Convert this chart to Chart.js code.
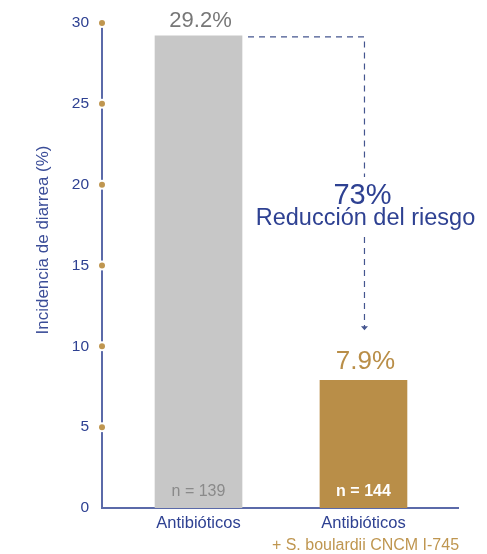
<!DOCTYPE html>
<html>
<head>
<meta charset="utf-8">
<script src="https://cdn.jsdelivr.net/npm/chart.js@4.4.1/dist/chart.umd.min.js"></script>
<style>
  html, body { margin: 0; padding: 0; background: #fff; }
  #wrap { width: 487px; height: 554px; }
</style>
</head>
<body>
<div id="wrap"><canvas id="myChart"></canvas></div>
<script>
const categories = ['Antibióticos', 'Antibióticos']
const subLabels = ['', '+ S. boulardii CNCM I-745']
const incidence = [29.2, 7.9]
const sampleSizes = ['n = 139', 'n = 144']
const yTicks = [0, 5, 10, 15, 20, 25, 30]
const reduction = '73%'
const reductionText = 'Reducción del riesgo'

const barColors = ['#c7c7c7', '#b98e48']
const valueColors = ['#777777', '#b98e48']
const nColors = ['#8a8a8a', '#ffffff']
const navy = '#2e4192'
const axisColor = '#5b6aa9'
const gold = '#bf9650'
const FONT = '"Liberation Sans", Arial, sans-serif'

const ctx = document.getElementById('myChart')

// dots on the y axis, value labels, dashed arrow, y title
const decor = {
  id: 'decor',
  afterDatasetsDraw(chart) {
    const { ctx, scales: { x, y }, chartArea } = chart
    const meta = chart.getDatasetMeta(0)
    ctx.save()

    // gold dots at each tick, with a small white ring over the axis line
    yTicks.forEach(v => {
      if (v === 0) return
      const py = y.getPixelForValue(v)
      ctx.fillStyle = '#ffffff'
      ctx.beginPath()
      ctx.arc(chartArea.left, py, 5, 0, Math.PI * 2)
      ctx.fill()
      ctx.fillStyle = gold
      ctx.beginPath()
      ctx.arc(chartArea.left, py, 3, 0, Math.PI * 2)
      ctx.fill()
    })

    // value on top, n inside the bar
    meta.data.forEach((bar, i) => {
      ctx.textAlign = 'center'
      ctx.textBaseline = 'alphabetic'
      ctx.fillStyle = valueColors[i]
      ctx.font = (i === 0 ? '22px ' : '26px ') + FONT
      ctx.fillText(incidence[i].toFixed(1) + '%', bar.x + 2, bar.y - (i === 0 ? 9 : 11))

      ctx.fillStyle = nColors[i]
      ctx.font = (i === 0 ? '' : 'bold ') + '16px ' + FONT
      ctx.fillText(sampleSizes[i], bar.x, y.getPixelForValue(0) - 12)
    })

    // dashed arrow from the first bar to the second
    const b0 = meta.data[0]
    const b1 = meta.data[1]
    const yTop = b0.y + 1
    const yEnd = b1.y - 50
    const xStart = b0.x + b0.width / 2 + 6
    const xArrow = b1.x + 1
    const gapTop = 177
    const gapBottom = 237
    ctx.strokeStyle = '#44558f'
    ctx.lineWidth = 1.2
    ctx.setLineDash([6, 5])
    ctx.beginPath()
    ctx.moveTo(xStart, yTop)
    ctx.lineTo(xArrow, yTop)
    ctx.lineTo(xArrow, gapTop)
    ctx.moveTo(xArrow, gapBottom)
    ctx.lineTo(xArrow, yEnd - 3)
    ctx.stroke()
    ctx.setLineDash([])
    ctx.fillStyle = '#44558f'
    ctx.beginPath()
    ctx.moveTo(xArrow - 3.5, yEnd - 4)
    ctx.lineTo(xArrow + 3.5, yEnd - 4)
    ctx.lineTo(xArrow, yEnd)
    ctx.closePath()
    ctx.fill()

    // reduction text
    ctx.fillStyle = navy
    ctx.textAlign = 'center'
    ctx.font = '29px ' + FONT
    ctx.fillText(reduction, xArrow - 2, 204)
    ctx.font = '23.5px ' + FONT
    ctx.fillText(reductionText, xArrow + 1, 225)

    // gold second line under the x labels
    ctx.fillStyle = gold
    ctx.font = '16px ' + FONT
    meta.data.forEach((bar, i) => {
      if (subLabels[i]) ctx.fillText(subLabels[i], bar.x + 2, 550)
    })

    // y axis title
    ctx.translate(43, 240)
    ctx.rotate(-Math.PI / 2)
    ctx.fillStyle = '#3b4d98'
    ctx.font = '17px ' + FONT
    ctx.textBaseline = 'middle'
    ctx.fillText('Incidencia de diarrea (%)', 0, 0)
    ctx.restore()
  }
}

new Chart(ctx, {
  type: 'bar',
  data: {
    datasets: [{
      data: incidence.map((v, i) => ({ x: i + 1, y: v })),
      backgroundColor: barColors,
      borderWidth: 0,
      barThickness: 87
    }]
  },
  options: {
    responsive: true,
    maintainAspectRatio: false,
    animation: false,
    layout: { padding: { top: 23, right: 29, left: 0, bottom: 0 } },
    plugins: {
      legend: { display: false },
      tooltip: { enabled: false }
    },
    scales: {
      x: {
        type: 'linear',
        offset: false,
        min: 0.415,
        max: 2.573,
        grid: { display: false, drawTicks: false },
        border: { display: true, color: axisColor, width: 2 },
        afterBuildTicks(scale) {
          scale.ticks = categories.map((c, i) => ({ value: i + 1 }))
        },
        afterFit(scale) { scale.height = 46 },
        ticks: {
          padding: 6,
          color: navy,
          font: { family: FONT, size: 16.5 },
          callback: (v) => categories[v - 1]
        }
      },
      y: {
        min: 0,
        max: 30,
        grid: { display: false, drawTicks: false },
        border: { display: true, color: axisColor, width: 2 },
        afterBuildTicks(scale) {
          scale.ticks = yTicks.map(v => ({ value: v }))
        },
        afterFit(scale) { scale.width = 102 },
        ticks: {
          padding: 13,
          color: navy,
          font: { family: FONT, size: 15.5 }
        }
      }
    }
  },
  plugins: [decor]
})
</script>
</body>
</html>
